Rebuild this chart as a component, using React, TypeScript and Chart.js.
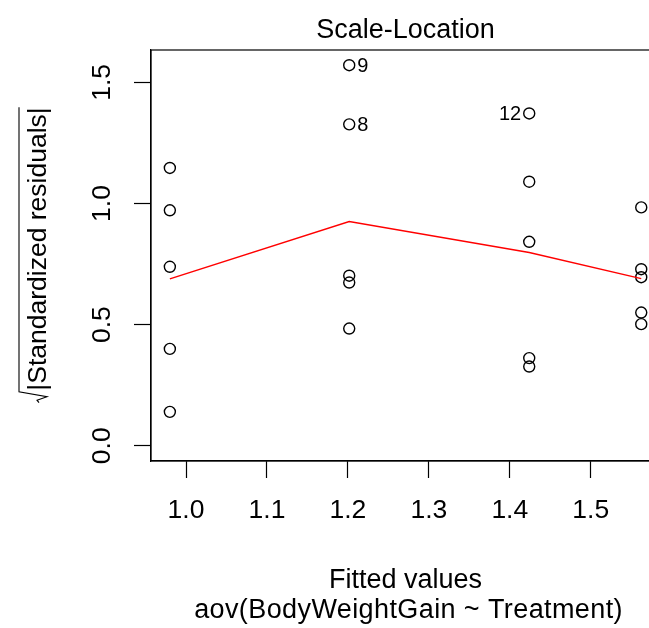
import React, { useEffect, useRef } from "react";
import { Chart, registerables } from "chart.js";

Chart.register(...registerables);

// Observations 1..20 (fitted value, sqrt(|standardized residual|))
const fittedValues = [
  0.98, 0.98, 0.98, 0.98, 0.98,
  1.2016, 1.2016, 1.2016, 1.2016, 1.2016,
  1.424, 1.424, 1.424, 1.424, 1.424,
  1.5624, 1.5624, 1.5624, 1.5624, 1.5624,
];
const sqrtStdResiduals = [
  1.147, 0.972, 0.739, 0.4, 0.14,
  0.702, 0.674, 1.327, 1.571, 0.484,
  1.09, 1.372, 0.842, 0.362, 0.327,
  0.984, 0.729, 0.696, 0.55, 0.502,
];
const observationIds = [
  "1", "2", "3", "4", "5", "6", "7", "8", "9", "10",
  "11", "12", "13", "14", "15", "16", "17", "18", "19", "20",
];
const labelledIds = ["9", "8", "12"];

// red smoother
const smoothX = [0.98, 1.2016, 1.424, 1.5624];
const smoothY = [0.689, 0.926, 0.798, 0.69];

const xTicks = [1.0, 1.1, 1.2, 1.3, 1.4, 1.5];
const yTicks = [0.0, 0.5, 1.0, 1.5];

const titleText = "Scale-Location";
const xLabelText = "Fitted values";
const subText = "aov(BodyWeightGain ~ Treatment)";
const yLabelText = "|Standardized residuals|";

const FONT = "Liberation Sans, Arial, Helvetica, sans-serif";

export default function App() {
  const ref = useRef<HTMLCanvasElement>(null);

  useEffect(() => {
    if (!ref.current) return;
    const xMinD = Math.min(...fittedValues);
    const xMaxD = Math.max(...fittedValues);
    const xr = xMaxD - xMinD;
    const yMaxD = Math.max(...sqrtStdResiduals);

    const pts = fittedValues.map((x, i) => ({ x, y: sqrtStdResiduals[i] }));
    const smooth = smoothX.map((x, i) => ({ x, y: smoothY[i] }));

    const boxPlugin = {
      id: "boxPlugin",
      afterDraw(chart: any) {
        const { ctx, chartArea } = chart;
        ctx.save();
        ctx.strokeStyle = "#000";
        ctx.lineWidth = 1.2;
        ctx.strokeRect(chartArea.left, chartArea.top, chartArea.right - chartArea.left, chartArea.bottom - chartArea.top);
        ctx.restore();
      },
    };

    const textPlugin = {
      id: "textPlugin",
      afterDraw(chart: any) {
        const { ctx, chartArea } = chart;
        const cx = (chartArea.left + chartArea.right) / 2;
        const cy = (chartArea.top + chartArea.bottom) / 2;
        ctx.save();
        ctx.fillStyle = "#000";
        ctx.font = `27px ${FONT}`;
        ctx.textAlign = "center";
        ctx.textBaseline = "alphabetic";
        ctx.fillText(titleText, cx, 38);
        ctx.fillText(xLabelText, cx, 588);
        (ctx as any).letterSpacing = "0.4px";
        ctx.fillText(subText, cx + 3, 618);
        (ctx as any).letterSpacing = "0px";

        // y label with radical
        ctx.translate(46, cy);
        ctx.rotate(-Math.PI / 2);
        ctx.font = `26.5px ${FONT}`;
        const w = ctx.measureText(yLabelText).width;
        const radW = 13;
        const total = radW + w;
        const x0 = -total / 2;
        ctx.textAlign = "left";
        ctx.fillText(yLabelText, x0 + radW, 0);
        ctx.strokeStyle = "#000";
        ctx.lineWidth = 1.1;
        ctx.beginPath();
        ctx.moveTo(x0 + 1, -7);
        ctx.lineTo(x0 + 3.5, -9);
        ctx.lineTo(x0 + 7, 1);
        ctx.lineTo(x0 + 12, -27);
        ctx.lineTo(x0 + total, -27);
        ctx.stroke();
        ctx.restore();

        // point id labels
        const meta = chart.getDatasetMeta(1);
        ctx.save();
        ctx.font = `20px ${FONT}`;
        ctx.fillStyle = "#000";
        ctx.textBaseline = "middle";
        const midX = (chart.scales.x.min + chart.scales.x.max) / 2;
        labelledIds.forEach((id) => {
          const i = observationIds.indexOf(id);
          const el = meta.data[i];
          if (!el) return;
          if (fittedValues[i] < midX) {
            ctx.textAlign = "left";
            ctx.fillText(id, el.x + 8, el.y + 1);
          } else {
            ctx.textAlign = "right";
            ctx.fillText(id, el.x - 8, el.y + 1);
          }
        });
        ctx.restore();
      },
    };

    const chart = new Chart(ref.current, {
      type: "scatter",
      data: {
        datasets: [
          {
            type: "line",
            data: smooth,
            borderColor: "#ff0000",
            borderWidth: 1.5,
            pointRadius: 0,
            fill: false,
            tension: 0,
          } as any,
          {
            type: "scatter",
            data: pts,
            pointStyle: "circle",
            pointRadius: 5.5,
            borderColor: "#000",
            borderWidth: 1.4,
            backgroundColor: "rgba(0,0,0,0)",
          } as any,
        ],
      },
      options: {
        responsive: false,
        animation: false,
        devicePixelRatio: 1,
        layout: { padding: { top: 50, right: 0, left: 0, bottom: 0 } },
        plugins: {
          legend: { display: false },
          tooltip: { enabled: false },
          title: { display: false },
        },
        scales: {
          x: {
            type: "linear",
            min: xMinD - 0.04 * xr,
            max: xMaxD + 0.04 * xr,
            afterFit(scale: any) {
              scale.height = 167;
              scale.paddingLeft = 0;
              scale.paddingRight = 0;
            },
            afterBuildTicks(scale: any) {
              scale.ticks = xTicks.map((v) => ({ value: v }));
            },
            border: { display: true, color: "#000", width: 1.2 },
            grid: {
              display: true,
              drawOnChartArea: false,
              drawTicks: true,
              tickLength: 17,
              tickWidth: 1.2,
              tickColor: "#000",
              color: "#000",
            },
            ticks: {
              color: "#000",
              font: { size: 26.5, family: FONT },
              padding: 17,
              maxRotation: 0,
              minRotation: 0,
              autoSkip: false,
              includeBounds: false,
              callback: (v: any) => Number(v).toFixed(1),
            },
          },
          y: {
            type: "linear",
            min: -0.04 * yMaxD,
            max: 1.04 * yMaxD,
            afterFit(scale: any) {
              scale.width = 151;
              scale.paddingTop = 0;
              scale.paddingBottom = 0;
            },
            afterBuildTicks(scale: any) {
              scale.ticks = yTicks.map((v) => ({ value: v }));
            },
            border: { display: true, color: "#000", width: 1.2 },
            grid: {
              display: true,
              drawOnChartArea: false,
              drawTicks: true,
              tickLength: 17,
              tickWidth: 1.2,
              tickColor: "#000",
              color: "#000",
            },
            ticks: {
              color: "#000",
              font: { size: 26.5, family: FONT },
              padding: 13,
              minRotation: 90,
              maxRotation: 90,
              crossAlign: "center",
              autoSkip: false,
              includeBounds: false,
              callback: (v: any) => Number(v).toFixed(1),
            },
          },
        },
      },
      plugins: [boxPlugin, textPlugin],
    } as any);
    return () => chart.destroy();
  }, []);

  return (
    <div
      style={{
        position: "absolute",
        left: 0,
        top: 0,
        width: 649,
        height: 628,
        overflow: "hidden",
        background: "#fff",
      }}
    >
      <canvas ref={ref} width={667} height={628} style={{ display: "block", width: 667, height: 628 }} />
    </div>
  );
}
